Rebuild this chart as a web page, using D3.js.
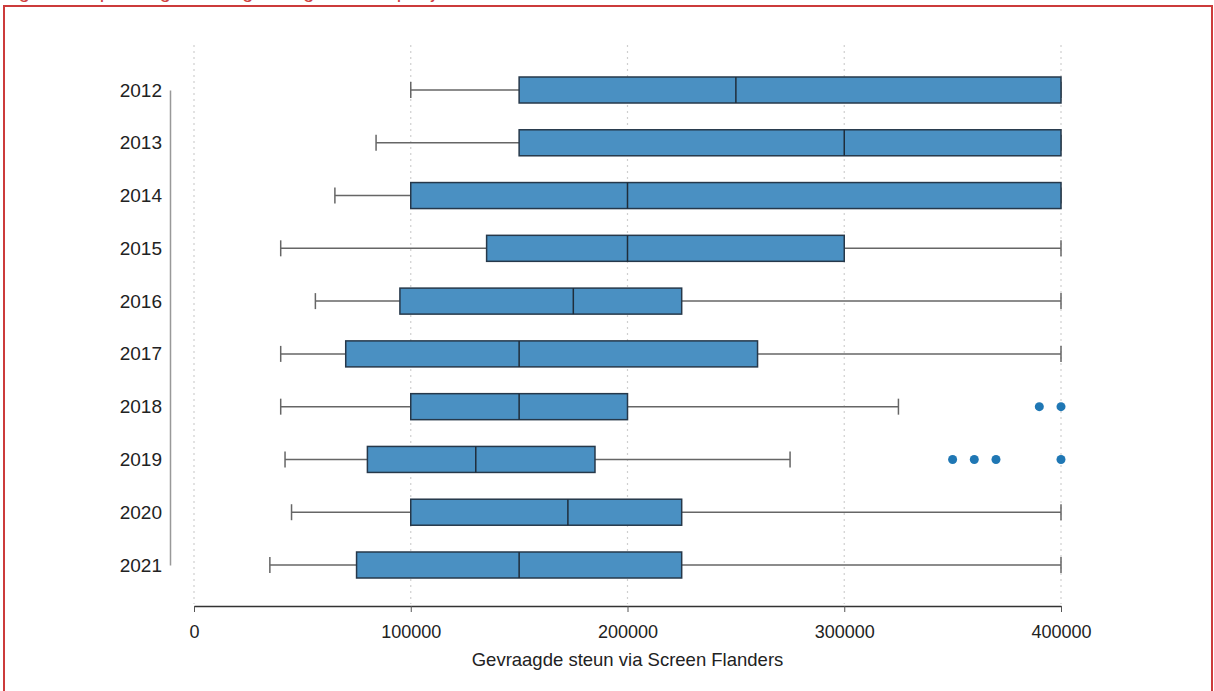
<!DOCTYPE html>
<html>
<head>
<meta charset="utf-8">
<script src="https://cdn.jsdelivr.net/npm/d3@7"></script>
<style>
  body { margin: 0; background: #fff; }
  svg { display: block; font-family: "Liberation Sans", Arial, sans-serif; }
</style>
</head>
<body>
<div id="chart"></div>
<script>
const years = ["2012", "2013", "2014", "2015", "2016", "2017", "2018", "2019", "2020", "2021"];
const whiskerLow = [100000, 84000, 65000, 40000, 56000, 40000, 40000, 42000, 45000, 35000];
const q1 = [150000, 150000, 100000, 135000, 95000, 70000, 100000, 80000, 100000, 75000];
const median = [250000, 300000, 200000, 200000, 175000, 150000, 150000, 130000, 172500, 150000];
const q3 = [400000, 400000, 400000, 300000, 225000, 260000, 200000, 185000, 225000, 225000];
const whiskerHigh = [400000, 400000, 400000, 400000, 400000, 400000, 325000, 275000, 400000, 400000];
const outliers = [
  { year: "2018", value: 390000 }, { year: "2018", value: 400000 },
  { year: "2019", value: 350000 }, { year: "2019", value: 360000 },
  { year: "2019", value: 370000 }, { year: "2019", value: 400000 }
];
const xTicks = [0, 100000, 200000, 300000, 400000];

const data = years.map((y, i) => ({
  year: y, low: whiskerLow[i], q1: q1[i], med: median[i], q3: q3[i], high: whiskerHigh[i]
}));

const width = 1214, height = 691;
const svg = d3.select("#chart").append("svg")
  .attr("width", width)
  .attr("height", height);

// caption above the frame, cut off by the top edge like in the source
svg.append("text")
  .attr("x", 2)
  .attr("y", -2)
  .attr("fill", "#d04040")
  .style("font-size", "20px")
  .text("Figuur 2: Spreiding van de gevraagde steun per jaar");

svg.append("rect")
  .attr("x", 4).attr("y", 6)
  .attr("width", 1208).attr("height", 700)
  .attr("fill", "none")
  .attr("stroke", "#cc3b3b")
  .attr("stroke-width", 2);

const x = d3.scaleLinear()
  .domain([0, 400000])
  .range([194, 1061]);

const y = d3.scalePoint()
  .domain(years)
  .range([90, 565]);

const boxH = 26, capH = 16;

// Grid
svg.append("g")
  .selectAll("line")
  .data(xTicks)
  .join("line")
  .attr("x1", d => x(d)).attr("x2", d => x(d))
  .attr("y1", 45).attr("y2", 604)
  .attr("stroke", "#cfcfcf")
  .attr("stroke-width", 1.2)
  .attr("stroke-dasharray", "2,4");

// X axis
const xAxis = svg.append("g")
  .attr("transform", "translate(0,606)")
  .call(d3.axisBottom(x).tickValues(xTicks).tickFormat(d3.format("d")).tickSize(6).tickSizeOuter(0));
xAxis.select(".domain").attr("stroke", "#333").attr("stroke-width", 1.5);
xAxis.selectAll(".tick line").attr("stroke", "#555");
xAxis.selectAll("text")
  .attr("dy", "1.3em")
  .style("font-size", "18px")
  .attr("fill", "#222");

svg.append("text")
  .attr("x", x(200000))
  .attr("y", 666)
  .attr("text-anchor", "middle")
  .style("font-size", "18.5px")
  .attr("fill", "#222")
  .text("Gevraagde steun via Screen Flanders");

// Y axis
const yAxis = svg.append("g")
  .attr("transform", "translate(170,0)")
  .call(d3.axisLeft(y).tickSize(0).tickPadding(8));
yAxis.select(".domain").attr("stroke", "#999").attr("stroke-width", 1.5);
yAxis.selectAll("text")
  .style("font-size", "19px")
  .attr("fill", "#222");

// Boxes
const g = svg.append("g");
const rows = g.selectAll("g.row")
  .data(data)
  .join("g")
  .attr("class", "row")
  .attr("transform", d => `translate(0,${y(d.year)})`);

rows.append("line")
  .attr("x1", d => x(d.low)).attr("x2", d => x(d.q1))
  .attr("stroke", "#666").attr("stroke-width", 1.5);
rows.append("line")
  .attr("x1", d => x(d.q3)).attr("x2", d => x(d.high))
  .attr("stroke", "#666").attr("stroke-width", 1.5);
rows.append("line")
  .attr("x1", d => x(d.low)).attr("x2", d => x(d.low))
  .attr("y1", -capH / 2).attr("y2", capH / 2)
  .attr("stroke", "#666").attr("stroke-width", 1.5);
rows.append("line")
  .attr("x1", d => x(d.high)).attr("x2", d => x(d.high))
  .attr("y1", -capH / 2).attr("y2", capH / 2)
  .attr("stroke", "#666").attr("stroke-width", 1.5);

rows.append("rect")
  .attr("x", d => x(d.q1))
  .attr("y", -boxH / 2)
  .attr("width", d => x(d.q3) - x(d.q1))
  .attr("height", boxH)
  .attr("fill", "#4a90c2")
  .attr("stroke", "#26384a")
  .attr("stroke-width", 1.5);

rows.append("line")
  .attr("x1", d => x(d.med)).attr("x2", d => x(d.med))
  .attr("y1", -boxH / 2).attr("y2", boxH / 2)
  .attr("stroke", "#1f2d3a").attr("stroke-width", 1.5);

// Outliers
svg.append("g")
  .selectAll("circle")
  .data(outliers)
  .join("circle")
  .attr("cx", d => x(d.value))
  .attr("cy", d => y(d.year))
  .attr("r", 4.5)
  .attr("fill", "#1f77b4");
</script>
</body>
</html>
